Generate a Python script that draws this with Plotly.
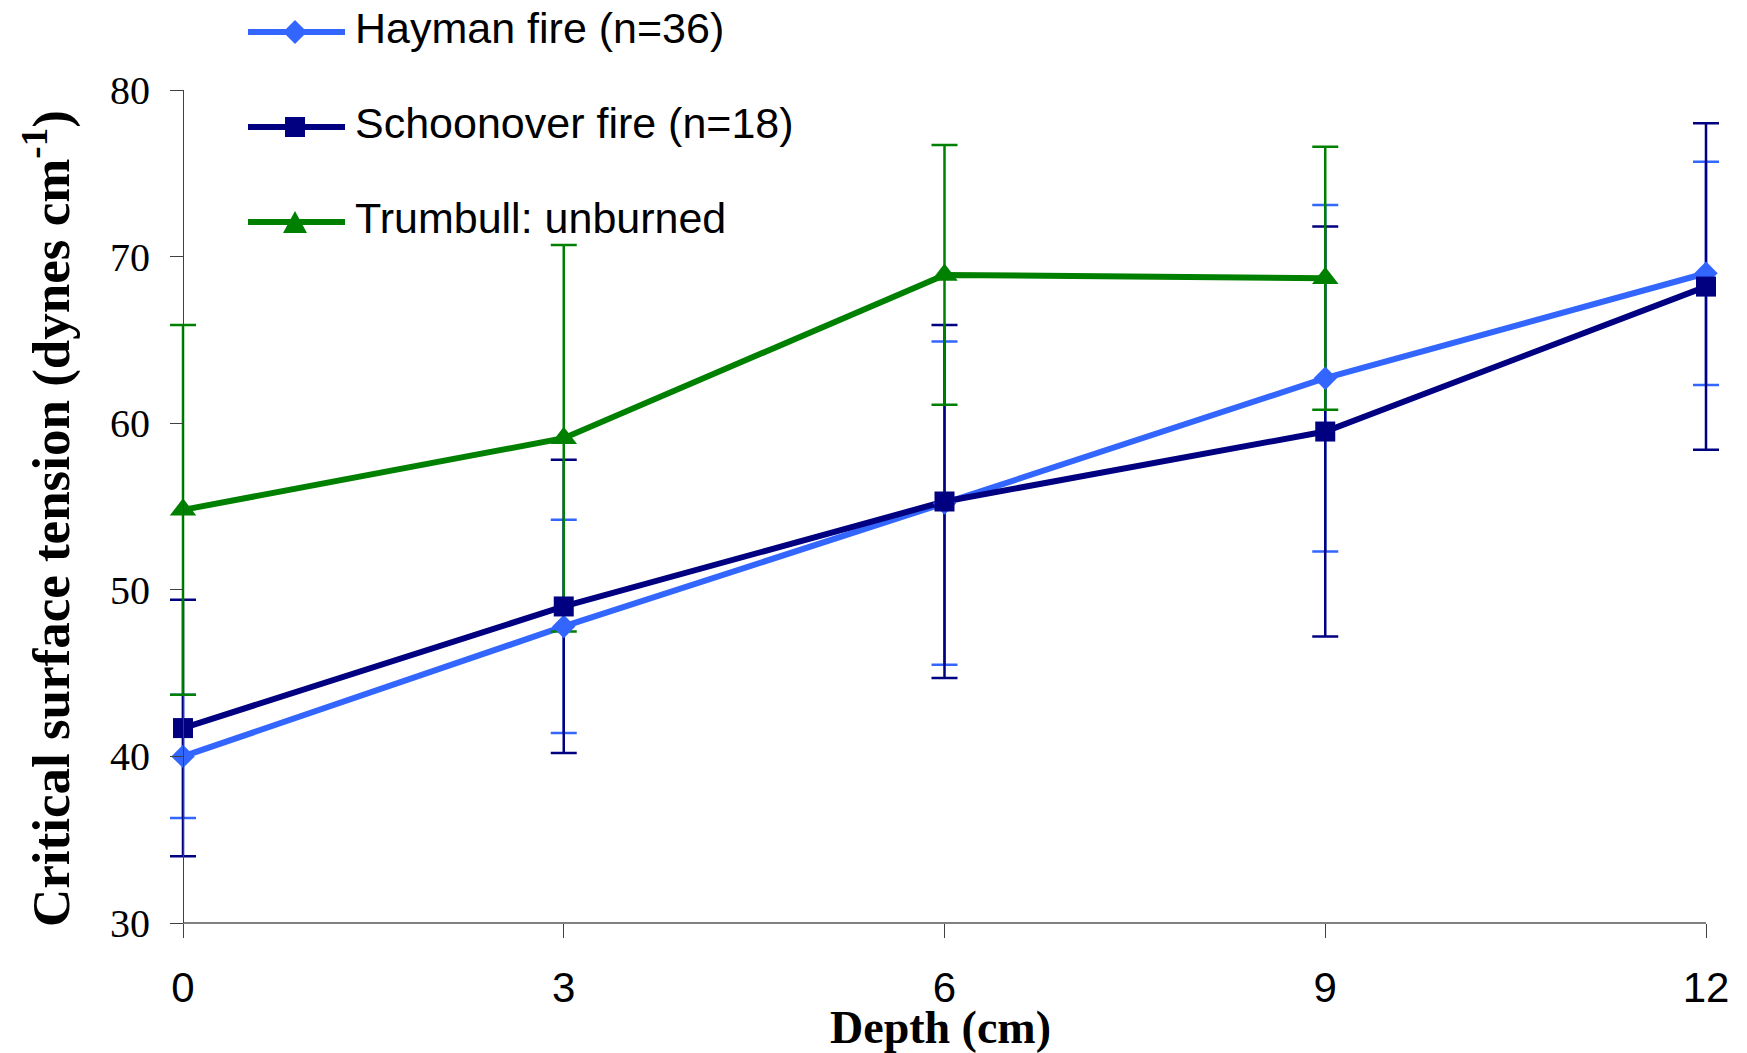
import plotly.graph_objects as go

# Depth below surface (cm)
depth = [0, 3, 6, 9, 12]

# Critical surface tension, mean and error (dynes cm^-1)
hayman_mean = [40.0, 47.8, 55.2, 62.7, 69.0]
hayman_err = [3.7, 6.4, 9.7, 10.4, 6.7]

schoon_mean = [41.7, 49.0, 55.3, 59.5, 68.2]
schoon_err = [7.7, 8.8, 10.6, 12.3, 9.8]

trumbull_mean = [54.8, 59.1, 68.9, 68.7, None]
trumbull_err = [11.1, 11.6, 7.8, 7.9, None]

series_names = ["Hayman fire (n=36)", "Schoonover fire (n=18)", "Trumbull: unburned"]
series_colors = ["#3366FF", "#000080", "#008000"]
series_symbols = ["diamond", "square", "triangle-up"]
series_sizes = [18, 20, 23]

y_ticks = [30, 40, 50, 60, 70, 80]
x_ticks = [0, 3, 6, 9, 12]

# page geometry (px): axes box from x=0..12 spans X0..X1, y=30..80 spans B..T
W, H = 1747, 1053
X0, X1, T, B = 183, 1706, 90, 923
PAD = 16  # extra room so the end error-bar caps are not clipped
L, R = X0 - PAD, X1 + PAD
unit = (X1 - X0) / (x_ticks[-1] - x_ticks[0])
x_range = [x_ticks[0] - PAD / unit, x_ticks[-1] + PAD / unit]

means = [hayman_mean, schoon_mean, trumbull_mean]
errs = [hayman_err, schoon_err, trumbull_err]

fig = go.Figure()

# lines with error bars first, markers drawn on top afterwards
for name, m, e, c in zip(series_names, means, errs, series_colors):
    fig.add_trace(go.Scatter(
        x=depth, y=m, mode="lines", name=name, showlegend=False, cliponaxis=False,
        line=dict(color=c, width=6),
        error_y=dict(type="data", array=e, visible=True, color=c,
                     thickness=2.5, width=13),
    ))
for name, m, c, s, sz in zip(series_names, means, series_colors, series_symbols, series_sizes):
    fig.add_trace(go.Scatter(
        x=depth, y=m, mode="markers", name=name, showlegend=False, cliponaxis=False,
        marker=dict(color=c, symbol=s, size=sz, line=dict(width=0)),
    ))


def px(xp):
    return (xp - L) / (R - L)


def py(yp):
    return (B - yp) / (B - T)


def poly(points):
    return "M " + " L ".join(f"{px(a):.5f},{py(b):.5f}" for a, b in points) + " Z"


shapes = []
annotations = []

# horizontal axis line from 0 to 12 cm
shapes.append(dict(type="line", xref="x", yref="paper", x0=x_ticks[0], x1=x_ticks[-1],
                   y0=0, y1=0, line=dict(color="#808080", width=2), layer="below"))

# legend key drawn above the plot area
key_rows = [32, 127, 222]
key_x0, key_x1, key_cx, text_x = 248, 345, 295, 353
for name, c, s, cy in zip(series_names, series_colors, series_symbols, key_rows):
    shapes.append(dict(type="line", xref="paper", yref="paper",
                       x0=px(key_x0), x1=px(key_x1), y0=py(cy), y1=py(cy),
                       line=dict(color=c, width=6), layer="above"))
    if s == "diamond":
        pts = [(key_cx - 12, cy), (key_cx, cy - 12), (key_cx + 12, cy), (key_cx, cy + 12)]
    elif s == "square":
        pts = [(key_cx - 10, cy - 10), (key_cx + 10, cy - 10), (key_cx + 10, cy + 10), (key_cx - 10, cy + 10)]
    else:
        pts = [(key_cx - 12, cy + 11), (key_cx + 12, cy + 11), (key_cx, cy - 11)]
    shapes.append(dict(type="path", xref="paper", yref="paper", path=poly(pts),
                       fillcolor=c, line=dict(width=0), layer="above"))
    annotations.append(dict(xref="paper", yref="paper", x=px(text_x), y=py(cy - 4),
                            xanchor="left", yanchor="middle", showarrow=False,
                            text=name, font=dict(family="Liberation Sans", size=43, color="black")))

# axis titles
annotations.append(dict(xref="paper", yref="paper", x=px(47), y=py(519),
                        xanchor="center", yanchor="middle", showarrow=False, textangle=-90,
                        text="<b>Critical surface tension (dynes cm<sup>-1</sup>)</b>",
                        font=dict(family="Liberation Serif", size=53, color="black")))
annotations.append(dict(xref="paper", yref="paper", x=px(940), y=py(1027),
                        xanchor="center", yanchor="middle", showarrow=False,
                        text="<b>Depth (cm)</b>",
                        font=dict(family="Liberation Serif", size=46, color="black")))

fig.update_layout(
    width=W, height=H,
    margin=dict(l=L, r=W - R, t=T, b=H - B, autoexpand=False),
    paper_bgcolor="white", plot_bgcolor="white",
    showlegend=False,
    shapes=shapes, annotations=annotations,
    xaxis=dict(range=x_range, tickvals=x_ticks, ticktext=[str(v) for v in x_ticks],
               showgrid=False, zeroline=False, showline=False,
               ticks="outside", ticklen=14, tickwidth=1, tickcolor="#404040",
               tickfont=dict(family="Liberation Sans", size=42, color="black"),
               ticklabelstandoff=14),
    yaxis=dict(range=[30, 80], tickvals=y_ticks, anchor="free", position=px(X0),
               showgrid=False, zeroline=False, showline=True, linecolor="#404040", linewidth=1,
               ticks="outside", ticklen=13, tickwidth=1, tickcolor="#404040",
               tickfont=dict(family="Liberation Serif", size=40, color="black"),
               ticklabelstandoff=12),
)

fig.write_html("out.html")
